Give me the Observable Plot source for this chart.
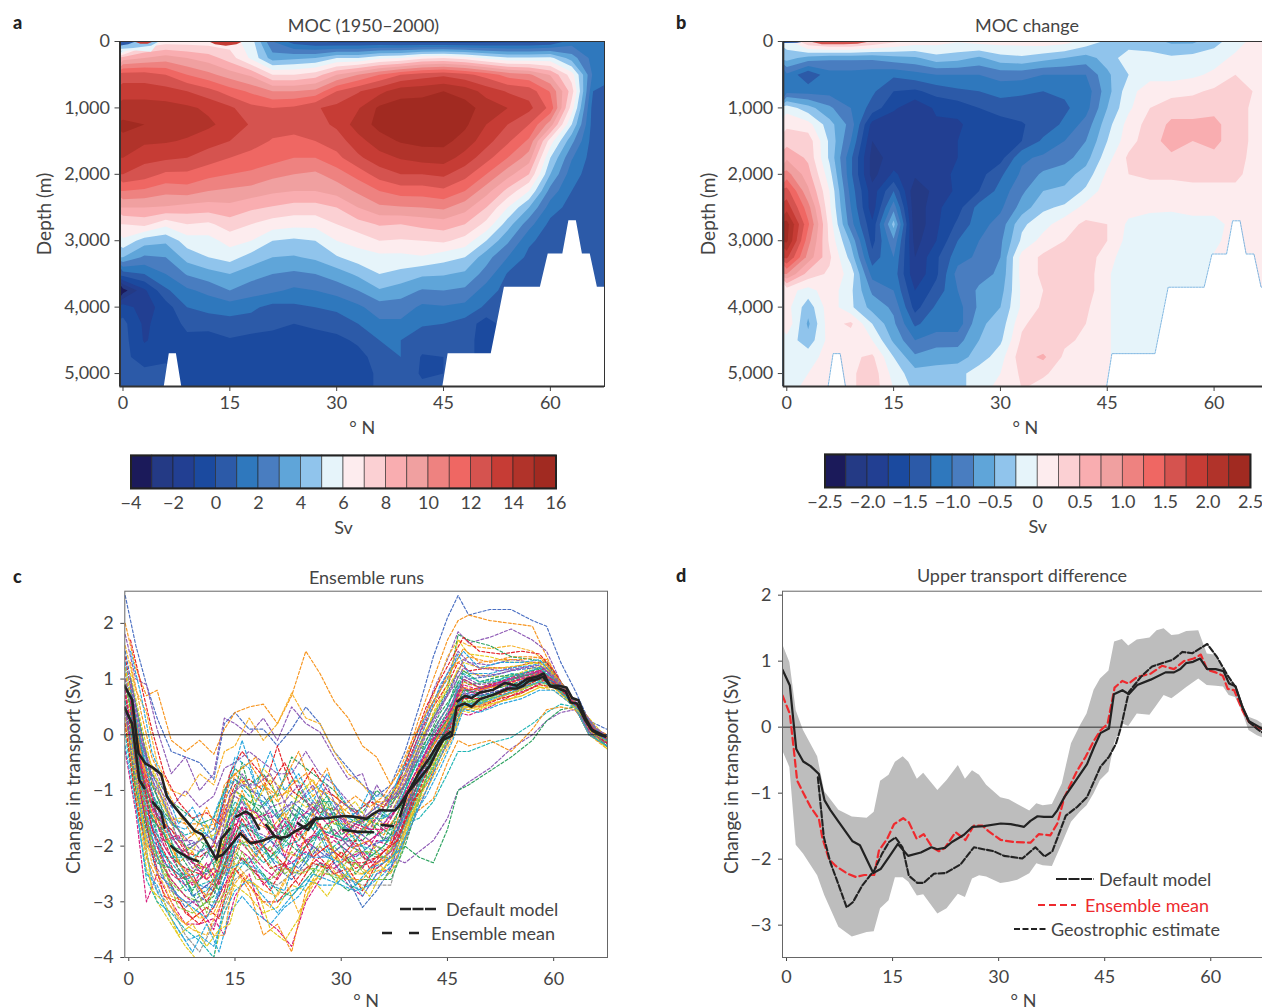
<!DOCTYPE html>
<html><head><meta charset="utf-8">
<script src="https://cdn.jsdelivr.net/npm/d3@7"></script>
<script src="https://cdn.jsdelivr.net/npm/@observablehq/plot@0.6"></script>
<style>
html,body{margin:0;padding:0;background:#fff;width:1262px;height:1008px;overflow:hidden}
#page{position:relative;width:1262px;height:1008px;overflow:hidden;font-family:Lato,"Open Sans",sans-serif;color:#444}
.t{position:absolute;font-size:18px;white-space:nowrap;transform:translate(-50%,-50%)}
.l{position:absolute;font-size:18px;font-weight:900;color:#222;transform:translateY(-50%)}
.k{position:absolute;font-size:18px;white-space:nowrap;transform:translateY(-50%)}
#page svg{position:absolute}
#page svg g[aria-label="y-axis label"]{font-size:19px}
</style></head><body><div id="page"></div>
<script>
const bandColors=["#1b1a5a","#243a85","#223f92","#1b4a9f","#2c5aa8","#2f78bd","#497dc0","#5fa5d9","#90c4ec","#e6f4fa","#fdecee","#fbd0d3","#f9adb0","#f0a0a0","#ee8280","#ef6763","#d5534f","#c63c35","#b1332a","#a12a21"];
const gridLats=d3.range(0,70,3);
// Panel a: MOC (Sv), one list per latitude 0,3,...,69; depth 0,250,...,5250 m
const mocA=[
[1,8.5,12.5,13.5,14.5,15.2,14.8,14,13,11,9,7,5.8,4,.5,-3.5,-.5,.3,.4,.3,.3,.5],
[6,9,12.5,13.5,14.5,15,14.2,13.3,12.5,10.8,9,7.3,4.5,2.8,1,-1.2,-1.5,-1.2,-1.1,-.5,.3,0],
[6.5,9.5,12,13.4,14.4,14.7,14.1,13.2,11.8,10.3,8.9,6.3,4.2,3,2,.8,-.5,-.5,-.5,-.3,.5,.5],
[6.5,9,11,13,14.2,14.4,13.9,13,11.8,10.5,8.6,7,5.5,4.4,3.1,1.8,1,.2,-.2,-.2,-.4,-.5],
[6.5,8.5,10.3,12.4,13.8,14.2,13.4,12.5,11.3,10,8.5,6.8,5.6,5,3.6,2.3,1.3,.5,-.6,-.8,-.8,-.8],
[6.5,7.5,9.5,11.5,13.2,13.6,13,12,11,9.8,8.7,7.5,6.4,5.4,4,3,1.5,.6,-.1,-.3,0,0],
[5.5,5.8,8.8,10.8,12.3,12.9,12.5,11.6,10.8,9.6,8.2,7,6,4.6,3.4,2.5,1.2,.6,-.4,-.7,-.7,-.7],
[2,3.5,7,10,12,12.5,11.9,11.4,10.3,9.2,7.9,6.5,5,4,3,2.2,.7,.2,-.3,-.7,-.7,-.7],
[.5,3.8,7,10,12.2,12.6,11.6,11,10,9,7.6,6.3,4.8,3.9,2.8,1.8,.8,0,-.5,-1,-.8,-.7],
[0,4,7.5,10.3,12.9,12.6,12,11,9.8,9,7.6,6.3,5,4.2,3,2,1,.2,-.4,-1,-.6,-.3],
[-.3,5,9,12,13.3,13.2,12.5,11.7,10.5,9.4,8,7,6,4.9,3.5,2.4,1.2,.5,-.3,-.7,-.7,-.7],
[-.3,5,10,12.9,13.9,14.5,13.6,12.8,11.4,10.2,9,7.6,6.4,5.5,4.2,3,1.8,1,.2,-.4,-.5,-.5],
[-.3,5.8,11,13.7,15.2,15.3,14.6,13.6,12.5,11,9.8,8.1,7,5.7,5,3.9,2.5,1.8,1,.5,.2,.2],
[-.4,6,12,14.6,15.5,15.6,15.1,14.1,13,11.5,9.9,8,6.9,5.7,4.7,3.5,2.5,1.8,1,1,.5,.3],
[-.5,6.8,12.5,14.7,15.5,15.7,15.3,14.4,13,11.5,10,8.3,7,5.9,4.2,2.9,1.8,1.1,.5,-.1,-.1,.2],
[-.6,7,12.8,15,15.7,15.8,15.3,14.5,13.2,11.8,10.2,8.5,7.2,5.4,4.1,3,1.9,1,.3,0,0,0],
[-.6,6.6,12.3,14.6,15.4,15.2,14.6,13.6,12.4,11,9.4,8,6.6,5,3.8,2.8,1.7,.6,.4,.4,.4,.4],
[-.5,5.8,11.6,13.6,14.6,14,13.4,12.4,11,9.4,8,6.7,5,3.4,2.6,1.5,.8,-.5,-.5,-.5,-.5,-.5],
[-.3,5.2,10.6,12.9,14,13,12.2,11,9.4,7.7,6,4.5,3.2,2,.9,.6,.5,.5,.5,.5,.5,.5],
[-.3,5.2,10.2,12.6,13.3,12,10.8,9.5,8,6,4,2.4,1.2,.7,.5,.5,.5,.5,.5,.5,.5,.5],
[0,5.3,8.9,10.9,11.7,9.5,6.5,5,4,2.6,1.5,.7,.5,.5,.5,.5,.5,.5,.5,.5,.5,.5],
[1.5,3.5,6.5,7.5,6.5,5,3.3,2.1,1.4,1,.6,.5,.5,.5,.5,.5,.5,.5,.5,.5,.5,.5],
[1.5,1.6,1.8,1,.5,.5,.5,.5,.5,.5,.5,.5,.5,.5,.5,.5,.5,.5,.5,.5,.5,.5],
[1.5,1.5,1.2,.5,.5,.5,.5,.5,.5,.5,.5,.5,.5,.5,.5,.5,.5,.5,.5,.5,.5,.5]];
// Panel b: MOC change (Sv)
const mocB=[
[-.1,-.4,-1.05,-1.1,-.1,.2,.4,.7,1.1,1.6,1.9,2.35,2.3,1.8,1,.1,.1,.2,-.1,-.1,-.1,-.1],
[.5,-.6,-1.45,-1.1,-.4,.1,.4,.45,.6,.8,1.1,1.3,1.1,.9,.4,-.1,-.4,-.55,-.4,-.1,0,.1],
[.7,-.7,-1.1,-1.1,-.7,-.4,-.3,-.3,-.15,0,.05,.15,.2,.3,.2,.15,.15,.15,.1,.1,.1,.1],
[.7,-.7,-1.1,-1.1,-1,-.85,-1,-1.2,-1.2,-1.1,-1,-.9,-.55,-.35,-.1,-.2,-.2,.3,.1,.2,.2,.2],
[.5,-.7,-1.15,-1.2,-1.35,-1.85,-2,-2.1,-2.1,-1.9,-1.9,-1.7,-1.6,-1.4,-1.1,-.8,-.6,-.25,0,.3,.4,.4],
[.3,-.6,-1.2,-1.5,-1.7,-1.95,-1.9,-1.9,-1.7,-1.25,-.85,-.4,-.8,-1,-1.1,-1,-.8,-.7,-.55,-.25,-.1,0],
[.15,-.55,-1.1,-1.55,-1.95,-1.97,-1.95,-1.95,-1.95,-2.2,-2.2,-2.2,-2.1,-2,-1.95,-1.75,-1.6,-1.3,-1,-.7,-.4,-.3],
[.1,-.35,-1,-1.4,-1.7,-1.8,-1.8,-1.85,-1.85,-1.9,-1.8,-1.8,-1.75,-1.55,-1.55,-1.4,-1.2,-1.1,-.9,-.55,-.45,-.4],
[.02,-.4,-1,-1.3,-1.65,-1.8,-1.75,-1.75,-1.7,-1.7,-1.6,-1.45,-1.25,-1.1,-.9,-1,-1.1,-1.15,-.85,-.6,-.35,-.35],
[.1,-.55,-1,-1.25,-1.5,-1.6,-1.7,-1.7,-1.6,-1.5,-1.15,-1.1,-1,-.95,-.85,-.7,-.7,-.55,-.5,-.4,-.1,-.1],
[.1,-.35,-.9,-1.15,-1.4,-1.6,-1.65,-1.6,-1.3,-1.15,-1.05,-.9,-.8,-.75,-.7,-.6,-.5,-.4,-.3,-.1,0,.1],
[.1,-.3,-.9,-1.2,-1.4,-1.52,-1.5,-1.05,-.95,-.8,-.65,-.3,-.2,.1,.1,.05,.05,.2,.3,.4,.3,.25],
[.15,-.4,-1,-1.25,-1.35,-1.4,-1.2,-.95,-.7,-.5,-.3,-.1,.1,.3,.3,.25,.3,.4,.3,.55,.3,.1],
[.1,-.5,-1,-1.2,-1.3,-1.2,-1,-.85,-.6,-.45,-.2,.15,.25,.4,.4,.4,.3,.3,.3,.2,.1,.1],
[-.1,-.6,-1,-1.15,-1.1,-.9,-.75,-.6,-.4,-.2,.1,.3,.35,.4,.4,.4,.3,.25,.2,.15,.1,.1],
[-.3,-.4,-.55,-.6,-.5,-.35,-.25,-.1,.05,.15,.2,.25,.25,.1,.02,.02,.02,.02,.02,.02,.02,.02],
[-.4,-.1,-.25,-.1,-.05,.1,.15,.3,.25,.15,.1,-.05,-.1,-.15,-.1,-.1,-.1,-.1,-.1,-.1,-.1,-.1],
[-.4,-.15,-.1,.15,.25,.35,.4,.4,.3,.15,.05,-.1,-.1,-.1,-.1,-.1,-.1,-.1,-.1,-.1,-.1,-.1],
[-.55,-.2,-.1,.15,.4,.55,.6,.45,.3,.15,.05,-.15,-.15,-.15,-.15,-.15,-.15,-.15,-.15,-.15,-.15,-.15],
[-.55,-.15,-.05,.2,.4,.55,.5,.4,.35,.15,.1,-.1,-.1,-.1,-.1,-.1,-.1,-.1,-.1,-.1,-.1,-.1],
[-.35,-.1,.05,.3,.45,.55,.55,.45,.3,.2,.05,-.05,-.05,.02,.02,.02,.02,.02,.02,.02,.02,.02],
[-.1,.05,.25,.45,.4,.4,.4,.35,.3,.2,.1,.05,.1,.1,.1,.1,.1,.1,.1,.1,.1,.1],
[.1,.1,.2,.2,.15,.15,.15,.15,.15,.1,.1,.1,.1,.1,.1,.1,.1,.1,.1,.1,.1,.1],
[.1,.1,.1,.1,.1,.1,.1,.1,.1,.1,.1,.1,.1,.1,.1,.1,.1,.1,.1,.1,.1,.1]];
// Ocean floor
const floorLat=[-1,5.65,6.5,7.5,8.4,44.75,45.65,51.7,53.55,58.6,59.7,61.75,62.6,63.65,64.5,65.6,66.6,70];
const floorDepth=[5300,5300,4700,4700,5300,5300,4700,4700,3700,3700,3200,3200,2700,2700,3200,3200,3700,3700];
// Surface layer
const topALat=[-.5,1.5,4,5.2], topAPale=[150,140,160,0], topABlue=[120,105,70,0];
const topADarkLat=[-.5,.8,2], topADark=[70,50,0];
const topARed1Lat=[1.5,2.5,3.5,4.5], topARed1=[0,40,40,0];
const topARed2Lat=[12,13,14.5,16,17], topARed2=[0,50,70,50,0];
const topBDarkLat=[-.5,1.5,3], topBDark=[30,25,0];
const topBRedLat=[3,5,8,10,12], topBRed=[0,50,50,40,0];
// Panels c, d
const defaultLat=[-.57,.47,1.37,2.36,3.4,4.58,5.38,6.23,7.4,9.34,10.38,12.26,13.3,14.48,15.75,17.2,19,20.5,21.3,22.4,23.4,25.1,26.3,27.9,30.3,31.7,33.6,34.5,35.5,36.4,37.6,38.3,39.3,41.1,42.5,43.5,44.4,45.6,46.3,47.5,48.4,49.6,51.5,53.6,54.8,55.7,56.5,57.5,58.5,59.5,60.7,61.8,62.6,63.5,64.5,65.4,66.4,67.3];
const defaultVal=[.87,.63,-.33,-.52,-.59,-.71,-1.11,-1.26,-1.44,-1.73,-1.79,-2.21,-2.15,-1.97,-1.77,-1.95,-1.9,-1.82,-1.85,-1.83,-1.74,-1.63,-1.51,-1.5,-1.46,-1.47,-1.51,-1.42,-1.35,-1.36,-1.36,-1.26,-1.06,-.78,-.56,-.3,-.09,-.02,.5,.56,.5,.64,.72,.83,.83,.88,.97,.99,1.04,.88,.88,.85,.66,.62,.3,.09,.03,-.03];
const meanLat=[-.57,.47,1.04,1.5,2.2,3.4,4.58,5.05,6,6.93,8.6,9.8,11,12.4,13.07,14.25,15.2,16.5,17.3,18.4,19.4,20.6,21.55,22.4,23.9,25.3,26.5,27.7,28.6,30.3,32.2,34.5,35.7,37.3,38.3,39.3,41.1,42.3,43.5,44.4,45.4,46.4,47.5,48.4,49.6,51.5,53.1,54.8,56.2,57.6,58.6,59.5,60.7,61.7,62.4,63.3,64.5,65.4,66.4,67.3];
const meanVal=[.48,.2,-.35,-.81,-.96,-1.21,-1.39,-1.67,-2,-2.1,-2.22,-2.27,-2.24,-2.24,-1.87,-1.69,-1.47,-1.38,-1.44,-1.69,-1.62,-1.82,-1.88,-1.83,-1.59,-1.71,-1.49,-1.49,-1.58,-1.71,-1.74,-1.75,-1.62,-1.64,-1.46,-1.06,-.66,-.45,-.2,-.05,.05,.6,.7,.66,.76,.81,.93,.88,1,1.04,1.1,.87,.83,.78,.58,.56,.25,.08,0,-.03];
const meanDashFrom=[-.6,3.3,5.9,12.3,15.1,19.4,22.5,30.2,35.6,38.3,46.4];
const meanDashTo=[2.3,5.1,9.9,14.3,18.5,21.6,26.6,34.6,37.4,45.5,67.4];
const geoLat=[4.43,5.28,6.2,7.4,8.5,9.4,10.7,12.4,13.5,14.5,15.4,16.4,17.3,18.5,19.4,20.85,22.5,24.6,26.5,29.3,30.75,33.35,35.2,36.5,37.6,39.5,41.1,42.5,44.4,45.6,46.6,47.3,48.4,50.1,51.7,54.6,56,57.4,59.5,60.9,62.4,63.5,64.5,65.4,66.6,67.3];
const geoVal=[-.76,-1.67,-2.05,-2.4,-2.73,-2.65,-2.4,-2.17,-1.92,-1.74,-1.67,-1.82,-2.25,-2.36,-2.36,-2.22,-2.21,-2.08,-1.82,-1.88,-1.95,-1.99,-1.82,-1.96,-1.88,-1.34,-1.21,-1.06,-.6,-.45,-.25,0,.53,.76,.92,1.02,1.14,1.12,1.26,1.06,.78,.61,.3,.08,-.03,-.08];
const bandLat=[-.57,.47,1.37,2.4,4.4,5.4,7.4,9.3,11.4,12.4,13.3,14.5,15.4,16.5,17.3,18.5,19.4,21.4,22.7,24.3,25.3,26.3,27.3,28.3,30.3,31.5,32.7,34.4,35.4,36.3,37.6,39,40.3,41.6,42.5,43.5,44.4,45.6,46.4,47.5,48.4,49.6,51.4,52.4,53.4,54.5,55.5,56.6,58.3,59.5,60.8,61.8,62.6,63.5,64.5,65.4,66.6,67.3];
const bandHigh=[1.26,.98,.25,-.05,-.45,-.98,-1.26,-1.36,-1.38,-1.29,-.82,-.73,-.53,-.45,-.53,-.79,-.7,-.96,-.81,-.58,-.79,-.66,-.73,-.88,-1.07,-1.1,-1.17,-1.27,-1.16,-1.19,-1.17,-.86,-.25,.03,.2,.56,.73,.85,1.29,1.33,1.23,1.32,1.35,1.46,1.49,1.39,1.4,1.45,1.46,1.11,1.09,.88,.71,.63,.35,.15,.1,.05];
const bandLow=[-.35,-.61,-1.79,-1.92,-2.25,-2.55,-3.03,-3.18,-3.11,-3.1,-2.75,-2.63,-2.28,-2.28,-2.35,-2.56,-2.54,-2.83,-2.75,-2.53,-2.58,-2.3,-2.25,-2.27,-2.37,-2.35,-2.32,-2.22,-2.07,-2.1,-2.11,-1.77,-1.44,-1.28,-1.19,-1.01,-.81,-.68,-.25,.05,.01,.2,.18,.33,.48,.43,.51,.6,.73,.63,.62,.61,.48,.45,.23,-.05,-.13,-.16];
const runLat=[-.5,1,2.5,4,6,8,10,12,13.5,15,17,19,21,23,25,27,29,31,33,35,37,39,41,43,45,46.5,48,51,54,57,59,61,63,65,67.5];
const runLat2=[.25,1.75,3.25,5,7,9,11,12.75,14.25,16,18,20,22,24,26,28,30,32,34,36,38,40,42,44,45.75,47.25,49.5,52.5,55.5,58,60,62,64,66,67.5];
const runColors=["#4a6fc3","#f7941d","#8e5ab5","#f7b32b","#8e5ab5","#2ca25f","#1fb5b5","#f7941d","#e5cb1f","#999999","#d6197c","#1fb5b5","#f7941d","#e41f26","#29a6de","#2ca25f","#e41f26","#e5cb1f","#8e5ab5","#1fb5b5","#8cc63f","#3d6fc0","#d6197c","#f7941d","#29a6de","#2ca25f","#8e5ab5","#e41f26","#1fb5b5","#f7b32b","#3d6fc0","#2ca25f","#e5cb1f","#29a6de","#d6197c","#8e5ab5"];
const runColors2=["#e41f26","#29a6de","#e5cb1f","#2ca25f","#8e5ab5","#f7941d","#d6197c","#1fb5b5","#8cc63f","#e41f26","#f7b32b","#29a6de","#e5cb1f","#2ca25f","#d6197c","#f7941d","#8e5ab5","#1fb5b5","#3d6fc0","#e41f26","#2ca25f","#f7941d","#8cc63f","#29a6de","#8e5ab5","#d6197c"];
const runs=[
[2.5,1.6,.9,.3,-.3,-.4,-.5,-.8,.2,.4,.1,.1,-.2,.1,.5,.2,-.3,-.6,-.9,-1.1,-.9,-.3,.5,1.4,2.1,2.5,2.15,2.25,2.25,2.05,1.95,1.3,.8,.25,.1],
[2,1.2,.7,.8,-.1,-.3,-.1,-.35,.1,.4,.5,.55,.2,.7,1.5,1.1,.6,.3,-.2,-.4,-.9,-.5,.3,1,1.7,2.05,2.15,2.05,2,1.95,1.4,.9,.6,.15,-.1],
[1.8,1,.9,.1,-.7,-.4,-1,-.7,.3,.2,0,.3,-.1,.5,.2,.05,-.4,-.8,-.7,-1.4,-1,-.7,0,.8,1.35,1.85,1.65,1.75,1.9,1.7,1.5,.95,.55,.1,-.05],
[1.6,.8,.4,-.5,-1,-1.1,-.7,-.9,-.3,-.2,.3,-.1,.2,.75,.3,.2,-.3,-.7,-.9,-1.2,-1.2,-.5,.1,.7,1.4,1.7,1.6,1.55,1.6,1.5,1.3,.8,.55,.15,-.05],
[.8,-.3,-1,-1.5,-1.7,-2,-2.1,-2,-1.3,-1.1,-1.3,-1.5,-1.7,-1.6,-1.7,-1.3,-1.5,-1.7,-1.8,-2,-2.2,-2.3,-2.1,-1.9,-1.5,-1,-.85,-.6,-.25,0,.25,.4,.45,.1,-.2],
[.3,-.5,-1.2,-1.8,-2,-2.1,-1.9,-2.1,-1.7,-1.3,-1.6,-1.4,-2,-1.6,-1.9,-1.8,-1.7,-2,-2.1,-2.2,-2.2,-2,-2.2,-2.3,-1.7,-1,-.9,-.65,-.4,-.1,.25,.45,.5,.05,-.2],
[.6,-.2,-.8,-1.3,-1.6,-1.8,-1.7,-1.9,-1,-.8,-1.1,-1.2,-1.5,-1.3,-1.5,-1.2,-1.2,-1.5,-1.6,-1.8,-1.7,-1.6,-1.5,-1.2,-.7,-.3,-.3,-.15,-.05,.2,.4,.55,.5,.05,-.15],
[.9,0,-.6,-1.1,-1.5,-1.6,-1.6,-1.7,-.9,-.7,-1,-.9,-1.1,-1,-1.2,-1,-1.1,-1.3,-1.5,-1.6,-1.6,-1.5,-1.35,-1.15,-.5,-.1,-.2,-.1,-.3,.1,.45,.5,.45,.1,-.15],
[.1,-1.1,-2.4,-3,-3.4,-3.8,-4.1,-4,-3.2,-2.7,-2.9,-3.2,-3.1,-2.7,-2.8,-2.4,-2.2,-2.5,-2.5,-2.4,-2.2,-1.9,-1,-.6,.05,.45,.4,.55,.65,.85,.9,.8,.5,0,-.2],
[.2,-1,-2.2,-2.8,-3.1,-3.6,-3.9,-3.4,-3.1,-2.6,-2.4,-2.6,-2.7,-2.5,-2.4,-2.3,-2.4,-2.6,-2.7,-2.7,-2.7,-1.7,-.9,-.5,.1,.5,.45,.6,.75,.9,.95,.8,.5,0,-.15],
[-.3,-1.4,-3,-2.5,-3,-3.4,-3.4,-3.3,-3.6,-2.9,-2.5,-3.3,-3.5,-3.8,-3,-2.6,-2.3,-2.7,-2.9,-2.5,-2.4,-1.9,-1.3,-.7,-.1,.4,.35,.5,.7,.85,1,.8,.5,0,-.2],
[0,-1.2,-2.6,-3,-3.2,-3.5,-3.7,-4,-3,-2.5,-2.2,-2.5,-3,-2.8,-2.7,-2.3,-2.5,-2.7,-2.8,-2.4,-2.2,-1.6,-1.1,-.6,-.05,.6,.5,.65,.75,.9,1,.8,.5,.05,-.15],
[.3,-1,-2.2,-2.6,-3.1,-3.4,-3.2,-3.6,-3.6,-2.4,-2.8,-3.6,-3.4,-3.9,-2.8,-2.5,-2.5,-2.6,-2.6,-2.3,-2.2,-1.7,-.9,-.4,.2,.5,.5,.6,.7,.95,1.05,.85,.55,.05,-.2],
[.2,-1.2,-2,-2,-2.7,-3.2,-3.4,-3.1,-2.7,-2.4,-2.7,-3,-3,-2.7,-2.4,-2.2,-2.5,-2.4,-2.8,-2.3,-2.1,-1.6,-.8,-.3,.1,.55,.55,.7,.75,1,1.05,.8,.5,0,-.2],
[1.2,0,-1,-1.4,-2.1,-2.5,-2.7,-2.8,-2,-1.4,-1.8,-2.1,-2.3,-2.4,-2,-1.7,-2.3,-2.2,-2.4,-1.9,-1.9,-1.2,-.5,-.05,.35,.85,.8,.85,1.05,1.1,1.15,.85,.55,.1,-.1],
[1,-.1,-1.1,-1.2,-1.8,-2.2,-2.4,-2.3,-1.9,-1,-1.2,-1.3,-1.8,-1.4,-1.6,-1.1,-1.8,-1.9,-1.9,-1.6,-1.8,-1,-.3,.1,.5,1.05,.9,.95,1,1.15,1.2,.9,.55,.1,-.15],
[1.4,.3,-.7,-1.5,-1.7,-2.1,-2.2,-2,-1.4,-.9,-.8,-1,-.2,-1,-1.2,-1.4,-1.3,-1.6,-1.7,-1.5,-1.1,-.6,0,.5,.9,1.3,1.15,1.2,1.2,1.3,1.3,.95,.6,.1,-.1],
[.9,-.2,-1.2,-1.6,-2,-2.5,-2.3,-2.5,-2,-1.5,-1.3,-1.6,-1.7,-.8,-.9,-1.3,-1.5,-1.8,-1.7,-1.4,-1.2,-.7,-.1,.3,.7,1.2,1.1,1.05,1.05,1.2,1.25,.9,.6,.1,-.25],
[.7,-.5,-1.5,-1.8,-2.2,-2.4,-2.8,-2.6,-2.2,-1.7,-1.6,-1.9,-1.7,-1.3,-1.5,-1.9,-1.7,-2,-2,-1.8,-1.9,-1.5,-.6,-.1,.2,.7,.65,.8,.95,1.05,1.1,.8,.55,.05,-.2],
[.6,-.6,-1.7,-2,-2.3,-2.6,-2.5,-2.4,-1.7,-1.2,-1.5,-.9,-1.4,-1.7,-1.1,-1.4,-1.6,-1.7,-1.5,-1.3,-1.5,-1,-.4,.05,.5,.95,.75,.9,1.1,1.05,1.15,.85,.6,.15,-.1],
[.4,-.9,-1.9,-2.1,-2.6,-2.9,-3,-2.8,-2.5,-2,-1.9,-2.2,-2.5,-2.1,-2.3,-2.6,-2,-2.3,-2.2,-2,-2.1,-1.4,-.7,-.2,.25,.75,.6,.7,.85,1,1.05,.8,.5,.05,-.2],
[.5,-.8,-1.8,-2.5,-2.7,-3.1,-2.9,-3.1,-2.6,-2.2,-2.3,-2,-2.4,-2.6,-2.3,-2,-2.3,-2.6,-3.1,-2.8,-2.4,-1.6,-.9,-.35,.15,.6,.7,.7,.9,1.05,1.05,.8,.5,.05,-.15],
[.8,-.4,-1.3,-2,-2.5,-2.7,-2.6,-2.4,-2.5,-1.8,-2.1,-2.4,-2.6,-2.2,-1.9,-2.1,-1.9,-2.1,-2.4,-1.9,-2,-1.3,-.6,-.2,.2,.8,.8,.85,1,1.1,1.15,.85,.5,.05,-.15],
[1.1,.1,-.8,-1,-1.5,-1.9,-1.7,-1.6,-1.5,-.7,-.5,-.9,-1.2,-.9,-.7,-1,-1.2,-1.4,-1.6,-1.2,-1.3,-.8,-.1,.5,1.1,1.3,1.4,1.3,1.4,1.4,1.35,.95,.6,.15,-.05],
[1.3,.2,-.5,-.9,-1.6,-1.7,-1.4,-1.9,-1.1,-.4,-.6,-1.3,-1,-.6,-1.1,-.9,-1.3,-1.5,-1.3,-1.1,-1.1,-.5,.1,.6,1,1.45,1.1,1.1,1.2,1.25,1.3,.95,.6,.15,-.05],
[.9,.1,-.6,-.8,-1.2,-1.4,-1.6,-1.5,-1,-.6,-.9,-.7,-1.1,-.4,-.6,-.8,-1,-1.3,-1.4,-1,-1.2,-.9,-.2,.35,.8,1.8,1.7,1.6,1.4,1.35,1.3,.9,.6,.1,-.1],
[1,.2,-.4,-.7,-1.3,-1,-1.3,-1.1,-.6,-.5,-.3,-.5,-.7,-.7,-.3,-.7,-.9,-1.2,-1.5,-.9,-1.3,-.7,0,.6,1.1,1.5,1.3,1.25,1.35,1.3,1.25,.9,.6,.15,-.1],
[.7,-.6,-1.4,-1.6,-2.2,-2.4,-2.5,-2.7,-2.1,-1.6,-1.9,-2,-2.2,-2.5,-2,-1.6,-2.1,-2.3,-2.3,-2.2,-2,-1.4,-.6,0,.4,.8,.8,.9,1,1.1,1.2,.9,.55,.1,-.15],
[.6,-.7,-1.6,-1.9,-2.4,-2.8,-2.7,-2.6,-2.4,-1.9,-2,-2.3,-2.1,-1.8,-2.3,-1.7,-1.8,-1.9,-2,-2.1,-2.3,-1.7,-.9,-.4,.05,.6,.55,.65,.85,.95,1,.75,.5,0,-.2],
[.3,-.9,-2,-2.2,-2.9,-3,-3.3,-3.2,-2.8,-2.3,-2.6,-2.8,-2.9,-2.4,-2.5,-2,-2.2,-2.4,-2.5,-2.3,-2.5,-1.8,-1.1,-.5,-.1,.45,.45,.6,.75,.9,1,.8,.5,0,-.25],
[1.5,.5,-.4,-1.1,-1.8,-2,-1.9,-1.7,-1.2,-.8,-1,-1.1,-1.5,-1.2,-1.4,-1.5,-1.4,-1.7,-1.8,-1.4,-1.5,-.9,-.2,.3,.75,1.15,1,1.05,1.15,1.2,1.2,.9,.55,.1,-.1],
[.5,-1,-1.7,-2.3,-2.4,-2.6,-3.1,-2.9,-2.3,-2.1,-2.4,-2.5,-2.8,-2.9,-2.6,-2.3,-2.6,-2.8,-2.6,-2.6,-2.6,-2,-1.2,-.3,.1,.55,.6,.75,.8,1,1.05,.8,.55,.05,-.2],
[1.2,.3,-.3,-.8,-1.5,-1.5,-1.9,-1.8,-1.6,-1,-1.3,-.6,-.9,-1.1,-1.3,-1.2,-1.6,-1.6,-1.5,-1.6,-1.4,-.9,-.3,.4,.9,1.7,1.45,1.4,1.3,1.3,1.25,.9,.55,.1,-.25],
[-.2,-1.3,-2.5,-2.7,-3.3,-3.7,-3.6,-3.8,-3.2,-2.8,-2.6,-2.9,-3.2,-2.9,-2.6,-2.7,-2.7,-2.5,-2.9,-2.5,-2.3,-1.5,-.8,-.35,.15,.6,.55,.7,.85,1,1.05,.85,.5,0,-.2],
[.5,-.7,-1.5,-2.2,-2.6,-2.9,-3.1,-3.5,-2.8,-2,-2.2,-2.7,-2.4,-2.3,-2.1,-2.3,-2.4,-2.2,-2.1,-2.4,-2.2,-1.5,-.8,-.1,.3,.7,.75,.85,.95,1.1,1.2,.9,.6,.1,-.1],
[.4,-.8,-1.6,-2.4,-2.8,-3,-3,-2.7,-2.4,-1.5,-1.7,-1.8,-2,-1.7,-1.9,-2.2,-2.1,-1.9,-2.2,-2.3,-2.1,-1.4,-.7,-.15,.3,.9,.7,.85,1,1.05,1.1,.85,.55,.05,-.15]];
const runs2=[
[1.7,.9,.1,-.7,-1.2,-1.5,-1.4,-1.6,-.7,-.3,-.6,-.9,-.5,-1,-.6,-1,-1.2,-1.4,-1.2,-1.3,-.9,-.2,.5,1,1.4,1.75,1.5,1.45,1.5,1.45,1.15,.75,.45,.1,0],
[1.5,.7,-.3,-.9,-1.6,-1.3,-1.8,-1.2,-.9,-.1,-.9,-.3,-1,-.7,-1.2,-.7,-1.1,-1.5,-1,-1.5,-.8,-.4,.2,.9,1.25,1.5,1.2,1.3,1.3,1.35,1.05,.8,.4,.1,0],
[1.1,.2,-.6,-1.3,-1.9,-2.1,-1.6,-2.2,-1.2,-.8,-1.2,-.8,-1.5,-1.1,-.8,-1.3,-1.4,-1.2,-1.6,-1.2,-.9,-.5,.1,.6,1,1.3,1.2,1.2,1.25,1.3,1.05,.75,.45,.15,-.05],
[1,.1,-.9,-1.4,-1.7,-2.3,-1.9,-2.4,-1.4,-.5,-1.4,-1.1,-1.8,-1,-1.4,-1.1,-1.7,-1.5,-1.8,-1.4,-1.1,-.7,-.1,.4,.7,1.15,.95,1.05,1.1,1.2,.95,.7,.35,.1,-.1],
[.9,-.3,-1,-1.7,-2,-2.4,-2.5,-1.9,-1.5,-1.2,-1.7,-1.3,-1.2,-1.6,-1.2,-1.4,-1.5,-1.7,-1.4,-1.6,-1.2,-.6,-.2,.3,.6,1.05,.9,.95,1.05,1.15,.95,.7,.35,.05,-.1],
[.8,-.4,-1.2,-1.5,-2.3,-2.1,-2.6,-2.2,-1.6,-1,-1.6,-1.7,-1.4,-1.9,-1.6,-1.7,-1.3,-1.9,-1.6,-1.8,-1.4,-.8,-.4,.05,.45,.95,.85,.85,1,1.1,1,.72,.4,.05,-.05],
[.5,-.5,-1.3,-2,-2.4,-2.7,-2.3,-2.7,-2,-1.3,-1.9,-2.1,-1.6,-2,-1.8,-1.9,-1.7,-2,-1.9,-1.7,-1.6,-1.1,-.6,-.1,.25,.85,.7,.8,.95,1.05,.95,.7,.4,.05,-.1],
[.4,-.8,-1.4,-2.2,-2.2,-2.9,-2.8,-2.5,-2.2,-1.6,-1.7,-2.3,-2,-1.9,-1.5,-2.1,-1.9,-1.8,-2.2,-2,-1.7,-1.2,-.7,-.2,.15,.7,.7,.75,.9,1,.9,.68,.4,.05,-.1],
[.3,-.9,-1.9,-2.5,-2.8,-2.6,-3.2,-2.4,-2.5,-1.9,-2.3,-2,-2.5,-2.3,-2.1,-1.8,-2.4,-2.1,-2.1,-2.2,-1.9,-1.3,-.8,-.3,.05,.6,.55,.75,.85,.95,.85,.65,.4,0,-.1],
[.2,-1.1,-2.1,-2.9,-3,-3.3,-3.1,-3.3,-2.6,-2.2,-2.5,-2.8,-2.3,-2.7,-2.3,-2.4,-2.1,-2.4,-2.3,-2.1,-1.9,-1.2,-.9,-.4,0,.55,.5,.65,.75,.9,.85,.65,.35,0,-.15],
[0,-1.4,-2.3,-2.7,-3.3,-3.5,-3.6,-3.1,-2.8,-2.5,-2.9,-3.1,-2.6,-3.2,-2.7,-2.3,-2.6,-2.3,-2.5,-2.4,-2,-1.4,-1,-.5,-.05,.5,.5,.6,.7,.85,.8,.6,.35,0,-.1],
[.1,-1.5,-2.6,-3.1,-3.5,-3.9,-3.4,-3.9,-3.2,-2.9,-3.2,-3.4,-3.1,-2.9,-2.5,-2.6,-2.7,-2.8,-2.7,-2.5,-2.2,-1.5,-1.1,-.6,-.1,.45,.4,.55,.65,.8,.8,.6,.35,.02,-.12],
[-.1,-1.3,-2.8,-3,-3.6,-3.4,-3.8,-3.5,-3.4,-2.6,-2.7,-3.5,-3.7,-3.3,-2.6,-2.9,-2.5,-2.6,-2.9,-2.4,-2.1,-1.4,-.9,-.4,.02,.5,.45,.6,.7,.85,.85,.62,.35,0,-.1],
[.6,-.6,-1.5,-1.8,-2.1,-2.5,-2.1,-2.3,-1.8,-1.1,-1.3,-1.6,-1.9,-1.3,-1.7,-1.2,-1.8,-1.6,-1.5,-1.9,-1.4,-.9,-.4,.1,.4,1,.85,.9,1.05,1.1,1,.7,.4,.08,-.08],
[.7,-.5,-1.1,-1.9,-1.8,-2.3,-2.4,-2.1,-1.9,-1.4,-1.5,-1.4,-2.2,-1.5,-1.3,-1.6,-1.5,-1.8,-2,-1.6,-1.3,-.8,-.3,.15,.5,.9,.8,.95,1.1,1.15,.98,.72,.42,.08,-.08],
[1.3,.4,-.4,-.9,-1.4,-1.8,-1.3,-1.8,-.8,-.6,-.4,-1.2,-.8,-.3,-1,-.6,-1.3,-1.1,-1.3,-1.1,-.7,-.1,.4,.8,1.2,1.55,1.3,1.35,1.35,1.4,1.1,.78,.45,.1,0],
[.9,-.1,-.8,-1.2,-1.9,-1.9,-2.2,-1.7,-1.3,-.7,-1.1,-1.5,-1.3,-1.2,-.9,-1.5,-1.2,-1.4,-1.7,-1.3,-1,-.5,.05,.5,.85,1.2,1.05,1.1,1.2,1.25,1.02,.75,.42,.1,-.05],
[.8,-.2,-1,-1.6,-2.2,-2.2,-2,-2.6,-1.7,-1.1,-1.8,-1.9,-1.7,-1.4,-1.7,-1.3,-1.6,-1.9,-1.5,-1.5,-1.3,-.7,-.2,.2,.55,1.1,.95,1,1.1,1.2,1,.72,.42,.08,-.08],
[.4,-.7,-1.6,-2.3,-2.5,-2.9,-2.7,-2.9,-2.3,-1.7,-2.1,-1.9,-2.2,-2.4,-2,-2.2,-2,-2.2,-2,-1.9,-1.7,-1,-.5,-.05,.3,.75,.7,.8,.9,1.05,.95,.7,.4,.05,-.1],
[.5,-.6,-1.7,-2.1,-2.6,-2.5,-3,-2.6,-2.1,-1.5,-2,-2.4,-2.3,-1.7,-2.2,-2,-2.2,-1.9,-2.4,-2.1,-1.8,-1.3,-.7,-.15,.2,.65,.65,.75,.85,1,.92,.68,.38,.03,-.12],
[.6,-.7,-1.2,-1.8,-2.4,-2.8,-2.4,-2.8,-1.9,-1.6,-1.8,-2.2,-1.9,-2.1,-1.9,-1.6,-2,-2.5,-2.2,-2,-1.6,-1.1,-.6,-.1,.35,.8,.75,.85,.95,1.1,.98,.7,.4,.05,-.08],
[.7,-.4,-1.4,-1.7,-2.3,-2.6,-2.9,-2.3,-2.4,-1.8,-2.2,-1.7,-2.1,-2.2,-1.4,-1.9,-2.3,-2,-1.9,-2.3,-1.5,-1,-.4,0,.4,.85,.8,.9,1,1.1,.98,.72,.4,.05,-.05],
[.2,-1,-2,-2.4,-3.1,-3.2,-3,-3,-2.7,-2.1,-2.6,-2.6,-2.4,-2.5,-2.4,-2.5,-2.6,-2.3,-2.6,-2.6,-2.3,-1.5,-.8,-.3,.1,.6,.6,.7,.8,.95,.9,.65,.38,0,-.12],
[.3,-.9,-1.8,-2.6,-2.9,-3.1,-3.3,-2.8,-2.4,-2.3,-2.4,-2.7,-2.8,-2.1,-2.2,-2.2,-2.3,-2.7,-2.4,-2.3,-2.1,-1.6,-1,-.4,.05,.55,.55,.7,.85,.95,.88,.65,.38,.02,-.1],
[1,0,-.7,-1.1,-1.7,-2,-1.8,-2,-1.1,-.9,-.9,-.7,-1.2,-.9,-1.4,-.9,-1.5,-1.6,-1.4,-1.2,-1.1,-.6,0,.45,.9,1.35,1.2,1.15,1.2,1.25,1.05,.78,.45,.12,-.02],
[.6,-.6,-1.3,-1.6,-2,-2.3,-2.6,-2.4,-1.6,-1.3,-1.4,-1.8,-1.5,-1.8,-1.5,-1.8,-1.9,-1.6,-1.7,-1.7,-1.3,-.8,-.3,.15,.5,1,.85,.9,1,1.1,.98,.7,.4,.05,-.08]];

const page=document.getElementById("page");
const ink="#333";
const font={fontFamily:"Lato,'Open Sans',sans-serif",fontSize:"18px",color:"#444",background:"transparent",overflow:"visible"};
function put(el,left,top){el.style.left=left+"px";el.style.top=top+"px";page.appendChild(el);}
function html(cls,text,x,y,color){const d=document.createElement("div");d.className=cls;d.textContent=text;d.style.left=x+"px";d.style.top=y+"px";if(color)d.style.color=color;page.appendChild(d);}
const flat=cols=>d3.merge(d3.range(cols[0].length).map(j=>cols.map(c=>c[j])));
const rows=(xs,ys)=>xs.map((x,i)=>({x,y:ys[i]}));
const area=(xs,ys,fill)=>Plot.areaY(rows(xs,ys),{x:"x",y1:0,y2:"y",fill,clip:true});

function contourPanel({cols,thresholds,domain,left,width,marginLeft,marginRight,xDomain,labelDx,extras,floorStroke}){
  const pl=Plot.plot({width,height:440,marginLeft,marginRight,marginTop:41,marginBottom:54,style:font,
    x:{domain:xDomain,ticks:[0,15,30,45,60],tickSize:5,tickPadding:5,label:"° N",labelAnchor:"center",labelArrow:"none",labelOffset:47},
    y:{domain:[0,5195],reverse:true,ticks:[0,1000,2000,3000,4000,5000],tickSize:5,tickPadding:5,tickFormat:d3.format(","),label:"Depth (m)",labelAnchor:"center",labelArrow:"none",labelOffset:labelDx},
    color:{type:"threshold",domain,range:bandColors},
    marks:[
      Plot.contour(flat(cols),{width:gridLats.length,height:22,x1:-1.5,x2:70.5,y1:-125,y2:5375,thresholds,fill:Plot.identity,clip:true}),
      ...extras,
      Plot.areaY(rows(floorLat,floorDepth),{x:"x",y1:5195,y2:"y",fill:"white",clip:true}),
      floorStroke?Plot.line(rows(floorLat,floorDepth),{x:"x",y:"y",stroke:"#5fa5d9",strokeWidth:.8,strokeDasharray:"2 1",clip:true}):null,
      Plot.frame({stroke:ink,strokeWidth:1}),
      Plot.ruleX(xDomain.slice(0,1),{stroke:ink,strokeWidth:2}),
      Plot.ruleY([5195],{stroke:ink,strokeWidth:2})
    ]});
  put(pl,left,0);
}
contourPanel({cols:mocA,thresholds:d3.range(-4,16),domain:d3.range(-3,16),left:0,width:630,marginLeft:119.5,marginRight:26,xDomain:[-.42,67.6],labelDx:83,extras:[
  area(topALat,topAPale,"#e6f4fa"),area(topALat,topABlue,"#90c4ec"),area(topADarkLat,topADark,"#2c5aa8"),area(topARed1Lat,topARed1,"#c63c35"),area(topARed2Lat,topARed2,"#c63c35")]});
contourPanel({cols:mocB,thresholds:d3.range(-10,10).map(d=>d/4),domain:d3.range(-9,10).map(d=>d/4),left:660,width:620,marginLeft:122.8,marginRight:13,xDomain:[-.49,67.5],labelDx:82,floorStroke:true,extras:[
  area(topBDarkLat,topBDark,"#1b4a9f"),area(topBRedLat,topBRed,"#d5534f")]});

function colorBar({lo,step,domain,ticks,fmt,left,width,marginLeft,marginRight,top}){
  const cells=d3.range(20).map(i=>({a:lo+i*step,b:lo+(i+1)*step,c:i}));
  const pl=Plot.plot({width,height:95,marginLeft,marginRight,marginTop:10,marginBottom:52,style:font,
    x:{domain,ticks,tickSize:0,tickPadding:8,tickFormat:fmt,label:"Sv",labelAnchor:"center",labelArrow:"none",labelOffset:45},
    y:{domain:[0,1],axis:null},
    marks:[Plot.rect(cells,{x1:"a",x2:"b",y1:0,y2:1,fill:d=>bandColors[d.c],stroke:"#222",strokeWidth:.8,strokeOpacity:.7,inset:0}),
      Plot.frame({stroke:"#222",strokeWidth:2})]});
  put(pl,left,top);
}
colorBar({lo:-4,step:1,domain:[-4,16],ticks:d3.range(-4,17,2),fmt:d3.format("d"),left:100,width:480,marginLeft:30.5,marginRight:24.5,top:445});
colorBar({lo:-2.5,step:.25,domain:[-2.5,2.5],ticks:d3.range(-5,6).map(d=>d/2),fmt:d=>d===0?"0":d3.format(".1f")(d),left:790,width:472,marginLeft:34.5,marginRight:12,top:444});

// panel c
const runRows=[...runs.flatMap((r,k)=>r.map((v,i)=>({x:runLat[i],y:v,k,c:runColors[k]}))),
  ...runs2.flatMap((r,k)=>r.map((v,i)=>({x:runLat2[i],y:v,k:100+k,c:runColors2[k]})))];
const meanRows=rows(meanLat,meanVal).flatMap(d=>{const s=meanDashFrom.findIndex((f,i)=>d.x>=f&&d.x<=meanDashTo[i]);return s<0?[]:[{...d,s}];});
put(Plot.plot({width:630,height:448,marginLeft:124.3,marginRight:23,marginTop:30.7,marginBottom:51,style:font,
  x:{domain:[-.56,67.6],ticks:[0,15,30,45,60],tickSize:4,tickPadding:11,label:"° N",labelAnchor:"center",labelArrow:"none",labelOffset:49},
  y:{domain:[-4,2.578],ticks:[-4,-3,-2,-1,0,1,2],tickSize:4,tickPadding:7,tickFormat:d3.format("d"),label:"Change in transport (Sv)",labelAnchor:"center",labelArrow:"none",labelOffset:58},
  marks:[
    Plot.line(runRows,{x:"x",y:"y",z:"k",stroke:"c",strokeWidth:1.15,strokeDasharray:"3 2",clip:true}),
    Plot.ruleY([0],{stroke:"#222",strokeWidth:1}),
    Plot.line(rows(defaultLat,defaultVal),{x:"x",y:"y",stroke:"#222",strokeWidth:2.6,clip:true}),
    Plot.line(meanRows,{x:"x",y:"y",z:"s",stroke:"#222",strokeWidth:2.6,clip:true}),
    Plot.frame({stroke:"#666",strokeWidth:1})
  ]}),0,560);
// panel d
put(Plot.plot({width:620,height:448,marginLeft:122,marginRight:16,marginTop:30.7,marginBottom:51,style:font,
  x:{domain:[-.57,67.6],ticks:[0,15,30,45,60],tickSize:4,tickPadding:9,label:"° N",labelAnchor:"center",labelArrow:"none",labelOffset:49},
  y:{domain:[-3.49,2.06],ticks:[-3,-2,-1,0,1,2],tickSize:4,tickPadding:7,tickFormat:d3.format("d"),label:"Change in transport (Sv)",labelAnchor:"center",labelArrow:"none",labelOffset:58},
  marks:[
    Plot.areaY(bandLat.map((x,i)=>({x,hi:bandHigh[i],lo:bandLow[i]})),{x:"x",y1:"lo",y2:"hi",fill:"#bdbdbd",clip:true}),
    Plot.ruleY([0],{stroke:"#333",strokeWidth:1}),
    Plot.line(rows(meanLat,meanVal),{x:"x",y:"y",stroke:"#ee2a2e",strokeWidth:2.2,strokeDasharray:"7 4",clip:true}),
    Plot.line(rows(geoLat,geoVal),{x:"x",y:"y",stroke:"#222",strokeWidth:2.1,strokeDasharray:"6 2.5",clip:true}),
    Plot.line(rows(defaultLat,defaultVal),{x:"x",y:"y",stroke:"#222",strokeWidth:2.2,clip:true}),
    Plot.frame({stroke:"#666",strokeWidth:1})
  ]}),660,560);

// text
[["MOC (1950–2000)",363.5,25],["MOC change",1027,25],["Ensemble runs",366.5,577],["Upper transport difference",1022,575]].forEach(t=>html("t",t[0],t[1],t[2]));
[["a",13,22],["b",676,22],["c",13,576],["d",676,575]].forEach(t=>html("l",t[0],t[1],t[2]));
function key(x1,x2,y,dash,color,width,label,tx,tc){
  const ns="http://www.w3.org/2000/svg";
  const s=document.createElementNS(ns,"svg");s.setAttribute("width",x2-x1);s.setAttribute("height",6);s.style.left=x1+"px";s.style.top=(y-3)+"px";
  const l=document.createElementNS(ns,"line");l.setAttribute("x1",0);l.setAttribute("x2",x2-x1);l.setAttribute("y1",3);l.setAttribute("y2",3);l.setAttribute("stroke",color);l.setAttribute("stroke-width",width);if(dash)l.setAttribute("stroke-dasharray",dash);
  s.appendChild(l);page.appendChild(s);
  html("k",label,tx,y,tc);
}
key(400,437,909,"11 1.5","#222",2.6,"Default model",446);
key(382,420,933,"10 17","#222",2.6,"Ensemble mean",431);
key(1056,1094,879,"11 1.5","#222",2.2,"Default model",1099);
key(1038,1076,905,"7 4","#ee2a2e",2.2,"Ensemble mean",1085,"#ee2a2e");
key(1014,1046,929,"6 2.5","#222",2.1,"Geostrophic estimate",1051);
</script></body></html>
